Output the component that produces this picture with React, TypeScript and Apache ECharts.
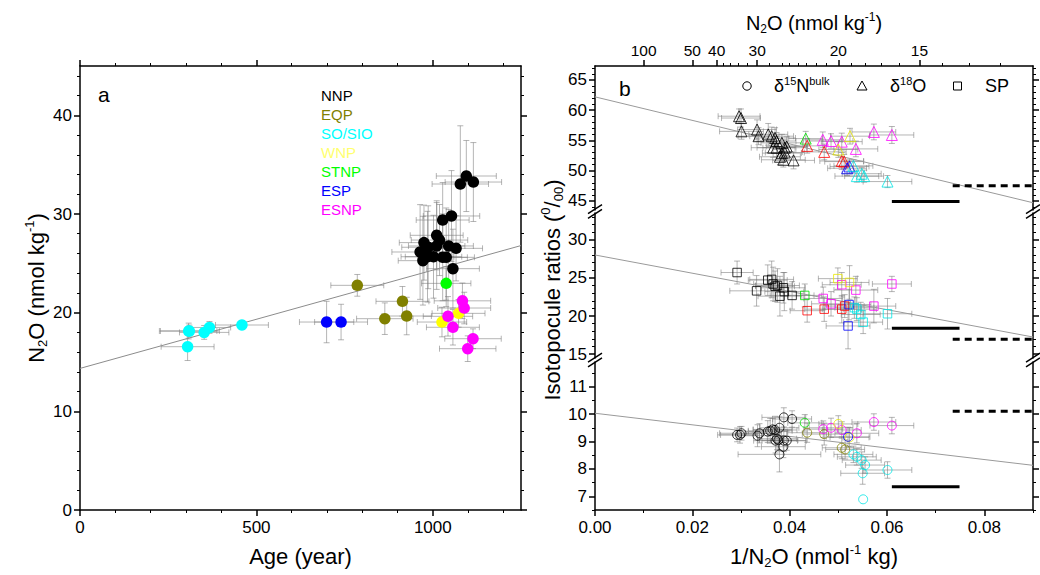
import React, { useEffect, useRef } from 'react';
import * as echarts from 'echarts';

const FONT = '"Liberation Sans", Arial, Helvetica, sans-serif';

// ---------- Panel a: [age (year), N2O (nmol kg-1), age error, N2O error]
const NNP = [
  [1095, 33.85, 85, 3.6], [1078, 33.04, 80, 5.9], [1115, 33.24, 80, 4.0], [1053, 29.8, 80, 4.6],
  [1028, 29.39, 75, 3.8], [1011, 27.84, 75, 3.5], [1019, 27.36, 80, 3.6], [975, 27.1, 70, 3.8],
  [987, 26.63, 75, 4.2], [1011, 26.76, 80, 4.4], [1045, 26.76, 70, 3.7], [1066, 26.52, 75, 3.3],
  [964, 26.15, 80, 4.8], [972, 25.27, 70, 4.5], [985, 25.67, 75, 4.6], [1002, 25.67, 80, 4.2],
  [1028, 25.61, 70, 4.4], [1038, 25.61, 80, 5.0], [1057, 24.46, 75, 4.0],
];
const EQP = [[786, 22.77, 75, 1.1], [864, 19.39, 80, 1.6], [914, 21.15, 75, 1.5], [926, 19.66, 70, 1.9]];
const SO_SIO = [[308, 18.14, 80, 0.8], [310, 18.14, 85, 0.6], [352, 18.0, 70, 0.7], [367, 18.5, 60, 0.6], [459, 18.75, 75, 0.3], [305, 16.55, 75, 1.4]];
const WNP = [[1073, 19.93, 75, 1.4], [1026, 19.05, 70, 1.5]];
const STNP = [[1038, 22.97, 70, 1.7]];
const ESP = [[699, 19.05, 77, 2.1], [740, 19.05, 75, 1.8]];
const ESNP = [[1084, 21.2, 80, 1.8], [1089, 20.47, 75, 1.6], [1043, 19.63, 70, 2.0], [1057, 18.52, 75, 1.8], [1114, 17.36, 80, 1.0], [1099, 16.35, 80, 1.3]];
const REGION_NAMES = ['NNP', 'EQP', 'SO/SIO', 'WNP', 'STNP', 'ESP', 'ESNP'];
const REGION_DATA = [NNP, EQP, SO_SIO, WNP, STNP, ESP, ESNP];
const REGION_COLORS = ['#000000', '#808000', '#00ffff', '#ffff00', '#00ff00', '#0000ff', '#ff00ff'];
const REGION_TEXT_COLORS = ['#000000', '#808000', '#00ffff', '#ffff70', '#00ff00', '#0000ff', '#ff00ff'];
const FIT_A = [[0, 14.35], [1250, 26.8]];

const A_X_MAJOR = [0, 500, 1000];
const A_X_MINOR = [100, 200, 300, 400, 600, 700, 800, 900, 1100, 1200];
const A_Y_MAJOR = [0, 10, 20, 30, 40];
const A_Y_MINOR = [2, 4, 6, 8, 12, 14, 16, 18, 22, 24, 26, 28, 32, 34, 36, 38, 42, 44];

// ---------- Panel b: [1/N2O, ratio (per mil), x error, y error]
const D18O_BLACK = [
  [0.0296, 59.0, 0.0043, 1.2], [0.03, 58.7, 0.004, 1.5], [0.0301, 56.5, 0.0045, 1.3], [0.0333, 56.8, 0.004, 1.6],
  [0.0336, 55.7, 0.0042, 1.4], [0.0356, 56.0, 0.004, 1.8], [0.0363, 55.7, 0.0045, 1.5], [0.037, 55.4, 0.0042, 1.7],
  [0.0373, 54.9, 0.004, 1.4], [0.0366, 53.8, 0.0045, 1.6], [0.0373, 53.8, 0.004, 1.5], [0.0384, 54.6, 0.0043, 1.4],
  [0.039, 53.8, 0.0045, 1.3], [0.0394, 54.0, 0.0042, 1.6], [0.0384, 52.9, 0.004, 1.5], [0.0387, 51.8, 0.0045, 1.2],
  [0.0408, 51.7, 0.0043, 1.4], [0.039, 53.0, 0.004, 1.5], [0.038, 52.3, 0.0042, 1.3],
];
const D18O_GREEN = [[0.0433, 55.3, 0.0035, 1.2]];
const D18O_RED = [[0.0436, 54.1, 0.004, 1.2], [0.0471, 53.1, 0.0045, 1.3], [0.0507, 51.6, 0.0045, 1.4], [0.0512, 51.5, 0.004, 1.2]];
const D18O_MAGENTA = [[0.0468, 55.1, 0.004, 1.3], [0.0485, 54.9, 0.0045, 1.2], [0.0507, 54.8, 0.0042, 1.4], [0.0536, 53.6, 0.0045, 1.3], [0.0573, 56.4, 0.0045, 1.3], [0.061, 55.9, 0.0045, 1.4]];
const D18O_YELLOW = [[0.0524, 55.7, 0.004, 1.3], [0.05, 53.5, 0.004, 1.3]];
const D18O_BLUE = [[0.0518, 50.4, 0.004, 1.2], [0.0523, 50.7, 0.004, 1.2]];
const D18O_CYAN = [[0.0531, 50.8, 0.004, 1.0], [0.0538, 49.1, 0.0045, 1.0], [0.0548, 49.5, 0.004, 1.0], [0.0553, 49.1, 0.004, 1.0], [0.0601, 48.2, 0.005, 1.0]];

const SP_BLACK = [
  [0.0292, 25.7, 0.0033, 1.5], [0.0355, 24.7, 0.004, 2.0], [0.0363, 24.8, 0.0045, 2.4], [0.0366, 24.2, 0.004, 2.2],
  [0.0387, 23.7, 0.0045, 2.0], [0.0389, 23.2, 0.004, 2.5], [0.0332, 23.3, 0.0055, 2.0], [0.038, 22.6, 0.0045, 2.6],
  [0.0405, 22.7, 0.0045, 1.8], [0.037, 23.9, 0.004, 2.0], [0.0375, 24.0, 0.0045, 2.2],
];
const SP_GREEN = [[0.0431, 22.7, 0.0035, 1.5]];
const SP_RED = [[0.0436, 20.7, 0.0035, 1.5], [0.0471, 20.9, 0.004, 1.6], [0.0507, 20.9, 0.004, 1.8], [0.0513, 21.3, 0.004, 1.5]];
const SP_BLUE = [[0.0522, 21.5, 0.0045, 2.0], [0.052, 18.7, 0.0045, 3.0]];
const SP_MAGENTA = [[0.0507, 24.1, 0.004, 1.6], [0.0536, 23.4, 0.0045, 1.8], [0.0469, 22.3, 0.004, 1.5], [0.0485, 21.6, 0.004, 1.6], [0.0573, 21.3, 0.0045, 2.2], [0.061, 24.2, 0.004, 1.0]];
const SP_YELLOW = [[0.0499, 24.9, 0.004, 1.4], [0.0523, 24.4, 0.004, 2.2]];
const SP_CYAN = [[0.0538, 20.9, 0.004, 1.5], [0.0546, 20.2, 0.004, 1.6], [0.0551, 19.2, 0.004, 1.5], [0.0601, 20.3, 0.005, 2.0], [0.0533, 21.1, 0.004, 1.4]];

const D15N_BLACK = [
  [0.0292, 9.24, 0.004, 0.25], [0.0298, 9.24, 0.004, 0.3], [0.0301, 9.3, 0.0045, 0.25], [0.0334, 9.21, 0.004, 0.4],
  [0.0338, 9.3, 0.0045, 0.35], [0.0355, 9.36, 0.004, 0.4], [0.036, 9.39, 0.0045, 0.45], [0.0365, 9.44, 0.004, 0.4],
  [0.037, 9.42, 0.0045, 0.5], [0.0379, 9.5, 0.004, 0.4], [0.0388, 9.88, 0.0045, 0.35], [0.0405, 9.82, 0.004, 0.3],
  [0.0371, 9.03, 0.0045, 0.45], [0.0377, 9.05, 0.004, 0.4], [0.0388, 9.03, 0.0045, 0.4], [0.0394, 9.03, 0.004, 0.35],
  [0.0387, 8.81, 0.0045, 0.4], [0.0379, 8.53, 0.0085, 0.64], [0.0374, 9.1, 0.004, 0.4],
];
const D15N_GREEN = [[0.0431, 9.68, 0.0035, 0.3]];
const D15N_OLIVE = [[0.0436, 9.32, 0.004, 0.35], [0.0471, 9.27, 0.0045, 0.4], [0.0507, 8.77, 0.004, 0.4], [0.0514, 8.71, 0.004, 0.35]];
const D15N_MAGENTA = [[0.0469, 9.45, 0.004, 0.3], [0.0485, 9.5, 0.0045, 0.35], [0.0507, 9.42, 0.004, 0.3], [0.0538, 9.3, 0.0045, 0.35], [0.0573, 9.71, 0.0045, 0.3], [0.061, 9.58, 0.0045, 0.3]];
const D15N_YELLOW = [[0.05, 9.64, 0.004, 0.3], [0.0523, 9.15, 0.004, 0.35]];
const D15N_BLUE = [[0.052, 9.17, 0.0045, 0.35]];
const D15N_CYAN = [[0.0531, 8.53, 0.004, 0.3], [0.0538, 8.44, 0.004, 0.3], [0.0548, 8.32, 0.004, 0.3], [0.0555, 8.14, 0.004, 0.3], [0.055, 7.84, 0.0045, 0.4], [0.0601, 7.96, 0.005, 0.3], [0.0551, 6.89, 0, 0]];

const FIT_D18O = [[0, 62.2], [0.09, 44.7]];
const FIT_SP = [[0, 28.0], [0.09, 17.25]];
const FIT_D15N = [[0, 10.03], [0.09, 8.13]];
const SOLID_RANGE = [0.061, 0.0749];
const DASH_RANGE = [0.0735, 0.09];
const SOLID_LEVELS = [44.9, 18.4, 7.35]; // d18O, SP, d15N
const DASH_LEVELS = [47.5, 16.95, 10.1];

const B_X_MAJOR = [0, 0.02, 0.04, 0.06, 0.08];
const B_X_MINOR = [0.01, 0.03, 0.05, 0.07, 0.09];
const N2O_TOP_MAJOR = [100, 50, 40, 30, 20, 15];
const N2O_TOP_MINOR = [38, 36, 34, 32, 28, 26, 25, 24, 23, 22, 21, 19, 18, 17, 16, 14, 13, 12];
const B_TOP_RANGE = [43.5, 67.3];
const B_MID_RANGE = [14.5, 33.5];
const B_BOT_RANGE = [6.5, 11.9];
const B_TOP_MAJOR = [45, 50, 55, 60, 65];
const B_MID_MAJOR = [15, 20, 25, 30];
const B_BOT_MAJOR = [7, 8, 9, 10, 11];
const B_TOP_MINOR = [44, 46, 47, 48, 49, 51, 52, 53, 54, 56, 57, 58, 59, 61, 62, 63, 64, 66, 67];
const B_MID_MINOR = [16, 17, 18, 19, 21, 22, 23, 24, 26, 27, 28, 29, 31, 32, 33];
const B_BOT_MINOR = [6.5, 7.5, 8.5, 9.5, 10.5, 11.5];

function rich(size: number, small: number) {
  return {
    n: { fontSize: size, fontFamily: FONT, color: '#000', lineHeight: Math.round(size * 1.2) },
    sub: { fontSize: small, fontFamily: FONT, color: '#000', lineHeight: Math.round(small * 0.85), verticalAlign: 'bottom' },
    sup: { fontSize: small, fontFamily: FONT, color: '#000', lineHeight: Math.round(small * 0.85), verticalAlign: 'top' },
  };
}
const RICH_TITLE = rich(22, 13);
const RICH_TOP = rich(20, 12);
const RICH_LEG = rich(18, 11);

function axisPair(o: any) {
  const common = { type: 'value', gridIndex: o.grid, position: o.pos, min: o.min, max: o.max, splitLine: { show: false } };
  const major = {
    ...common,
    axisLine: { show: true, onZero: false, lineStyle: { color: '#000', width: 1.5 } },
    axisTick: { show: true, inside: false, length: 6, customValues: o.majors, lineStyle: { color: '#000', width: 1.5 } },
    axisLabel: o.labels
      ? { show: true, customValues: o.labels, formatter: o.fmt, fontSize: o.fontSize || 17, fontFamily: FONT, color: '#000', margin: o.margin == null ? 8 : o.margin }
      : { show: false },
    name: o.name,
    nameLocation: 'middle',
    nameGap: o.nameGap,
    nameTextStyle: { rich: o.rich || RICH_TITLE, fontFamily: FONT, color: '#000' },
  };
  const minor = {
    ...common,
    axisLine: { show: false, onZero: false },
    axisTick: { show: true, inside: false, length: 3, customValues: o.minors, lineStyle: { color: '#000', width: 1 } },
    axisLabel: { show: false },
  };
  return [major, minor];
}

function errorSeries(data: number[][], xi: number, yi: number) {
  return {
    type: 'custom', xAxisIndex: xi, yAxisIndex: yi, clip: true, silent: true, z: 1,
    data, encode: { x: 0, y: 1 },
    renderItem: (_p: any, api: any) => {
      const x = api.value(0), y = api.value(1), ex = api.value(2), ey = api.value(3);
      const c = api.coord([x, y]);
      const l = api.coord([x - ex, y])[0];
      const r = api.coord([x + ex, y])[0];
      const t = api.coord([x, y + ey])[1];
      const b = api.coord([x, y - ey])[1];
      const cap = 3;
      const st = { stroke: 'rgba(120,120,120,0.55)', lineWidth: 1 };
      const children: any[] = [];
      if (ex > 0) {
        children.push(
          { type: 'line', shape: { x1: l, y1: c[1], x2: r, y2: c[1] }, style: st },
          { type: 'line', shape: { x1: l, y1: c[1] - cap, x2: l, y2: c[1] + cap }, style: st },
          { type: 'line', shape: { x1: r, y1: c[1] - cap, x2: r, y2: c[1] + cap }, style: st },
        );
      }
      if (ey > 0) {
        children.push(
          { type: 'line', shape: { x1: c[0], y1: t, x2: c[0], y2: b }, style: st },
          { type: 'line', shape: { x1: c[0] - cap, y1: t, x2: c[0] + cap, y2: t }, style: st },
          { type: 'line', shape: { x1: c[0] - cap, y1: b, x2: c[0] + cap, y2: b }, style: st },
        );
      }
      return { type: 'group', children };
    },
  };
}

function lineSeries(data: number[][], xi: number, yi: number, color: string, width: number, type: any = 'solid') {
  return {
    type: 'line', xAxisIndex: xi, yAxisIndex: yi, data, showSymbol: false, symbol: 'none', silent: true, z: 2,
    lineStyle: { color, width, type }, clip: true,
  };
}

function App() {
  const ref = useRef<HTMLDivElement>(null);
  useEffect(() => {
    if (!ref.current) return;
    const chart = echarts.init(ref.current, undefined, { renderer: 'svg' });

    const xAxis = [
      ...axisPair({ grid: 0, pos: 'bottom', min: 0, max: 1250, majors: A_X_MAJOR, minors: A_X_MINOR, labels: A_X_MAJOR, fmt: (v: number) => String(v), name: '{n|Age (year)}', nameGap: 33, margin: 9 }),
      ...axisPair({ grid: 0, pos: 'top', min: 0, max: 1250, majors: A_X_MAJOR, minors: A_X_MINOR }),
      ...axisPair({ grid: 1, pos: 'top', min: 0, max: 0.09, majors: N2O_TOP_MAJOR.map((v) => 1 / v), minors: N2O_TOP_MINOR.map((v) => 1 / v), labels: N2O_TOP_MAJOR.map((v) => 1 / v), fmt: (v: number) => String(Math.round(1 / v)), fontSize: 15.5, margin: 8, name: '{n|N}{sub|2}{n|O (nmol kg}{sup|-1}{n|)}', nameGap: 31, rich: RICH_TOP }),
      { type: 'value', gridIndex: 2, min: 0, max: 0.09, show: false },
      ...axisPair({ grid: 3, pos: 'bottom', min: 0, max: 0.09, majors: B_X_MAJOR, minors: B_X_MINOR, labels: B_X_MAJOR, fmt: (v: number) => v.toFixed(2), name: '{n|1/N}{sub|2}{n|O (nmol}{sup|-1}{n| kg)}', nameGap: 33, margin: 9 }),
    ];
    const yAxis = [
      ...axisPair({ grid: 0, pos: 'left', min: 0, max: 45, majors: A_Y_MAJOR, minors: A_Y_MINOR, labels: A_Y_MAJOR, fmt: (v: number) => String(v), name: '{n|N}{sub|2}{n|O (nmol kg}{sup|-1}{n|)}', nameGap: 31 }),
      ...axisPair({ grid: 0, pos: 'right', min: 0, max: 45, majors: A_Y_MAJOR, minors: A_Y_MINOR }),
      ...axisPair({ grid: 1, pos: 'left', min: B_TOP_RANGE[0], max: B_TOP_RANGE[1], majors: B_TOP_MAJOR, minors: B_TOP_MINOR, labels: B_TOP_MAJOR, fmt: (v: number) => String(v) }),
      ...axisPair({ grid: 1, pos: 'right', min: B_TOP_RANGE[0], max: B_TOP_RANGE[1], majors: B_TOP_MAJOR, minors: B_TOP_MINOR }),
      ...axisPair({ grid: 2, pos: 'left', min: B_MID_RANGE[0], max: B_MID_RANGE[1], majors: B_MID_MAJOR, minors: B_MID_MINOR, labels: B_MID_MAJOR, fmt: (v: number) => String(v) }),
      ...axisPair({ grid: 2, pos: 'right', min: B_MID_RANGE[0], max: B_MID_RANGE[1], majors: B_MID_MAJOR, minors: B_MID_MINOR }),
      ...axisPair({ grid: 3, pos: 'left', min: B_BOT_RANGE[0], max: B_BOT_RANGE[1], majors: B_BOT_MAJOR, minors: B_BOT_MINOR, labels: B_BOT_MAJOR, fmt: (v: number) => String(v) }),
      ...axisPair({ grid: 3, pos: 'right', min: B_BOT_RANGE[0], max: B_BOT_RANGE[1], majors: B_BOT_MAJOR, minors: B_BOT_MINOR }),
    ];

    const series: any[] = [];
    // Panel a
    series.push(errorSeries(REGION_DATA.flat(), 0, 0));
    series.push(lineSeries(FIT_A, 0, 0, '#8c8c8c', 1));
    REGION_DATA.forEach((d, i) => {
      series.push({
        type: 'scatter', name: REGION_NAMES[i], xAxisIndex: 0, yAxisIndex: 0, data: d.map((p) => [p[0], p[1]]),
        symbol: 'circle', symbolSize: 11.5, itemStyle: { color: REGION_COLORS[i], opacity: 1 }, z: 3,
      });
    });

    // Panel b
    const bGroups = [
      { xi: 4, yi: 4, symbol: 'triangle', size: 11, sets: [[D18O_BLACK, '#000000'], [D18O_GREEN, '#00e000'], [D18O_RED, '#ff0000'], [D18O_MAGENTA, '#ff00ff'], [D18O_YELLOW, '#e8e800'], [D18O_BLUE, '#0000ff'], [D18O_CYAN, '#00e5e5']], fit: FIT_D18O, lvl: 0 },
      { xi: 6, yi: 8, symbol: 'rect', size: 8.5, sets: [[SP_BLACK, '#000000'], [SP_GREEN, '#00e000'], [SP_RED, '#ff0000'], [SP_MAGENTA, '#ff00ff'], [SP_YELLOW, '#e8e800'], [SP_BLUE, '#0000ff'], [SP_CYAN, '#00e5e5']], fit: FIT_SP, lvl: 1 },
      { xi: 7, yi: 12, symbol: 'circle', size: 9, sets: [[D15N_BLACK, '#000000'], [D15N_GREEN, '#00e000'], [D15N_OLIVE, '#808000'], [D15N_MAGENTA, '#ff00ff'], [D15N_YELLOW, '#e8e800'], [D15N_BLUE, '#0000ff'], [D15N_CYAN, '#00e5e5']], fit: FIT_D15N, lvl: 2 },
    ];
    bGroups.forEach((g) => {
      series.push(errorSeries(g.sets.map((s: any) => s[0]).flat(), g.xi, g.yi));
      series.push(lineSeries(g.fit, g.xi, g.yi, '#9a9a9a', 1));
      series.push(lineSeries([[SOLID_RANGE[0], SOLID_LEVELS[g.lvl]], [SOLID_RANGE[1], SOLID_LEVELS[g.lvl]]], g.xi, g.yi, '#000', 3));
      series.push(lineSeries([[DASH_RANGE[0], DASH_LEVELS[g.lvl]], [DASH_RANGE[1], DASH_LEVELS[g.lvl]]], g.xi, g.yi, '#000', 3, [7, 5]));
      g.sets.forEach((s: any) => {
        series.push({
          type: 'scatter', xAxisIndex: g.xi, yAxisIndex: g.yi, data: s[0].map((p: number[]) => [p[0], p[1]]),
          symbol: g.symbol, symbolSize: g.size, z: 3, silent: true,
          itemStyle: { color: 'rgba(255,255,255,0)', borderColor: s[1], borderWidth: 1 },
        });
      });
    });

    const breaks: any[] = [];
    [211.5, 360].forEach((y0) => {
      [595, 1033].forEach((x0) => {
        [-2.4, 2.4].forEach((o) => {
          breaks.push({ type: 'line', shape: { x1: x0 - 7, y1: y0 + o + 4.5, x2: x0 + 7, y2: y0 + o - 4.5 }, style: { stroke: '#000', lineWidth: 1.5 }, z: 10 });
        });
      });
    });

    const option: any = {
      animation: false,
      backgroundColor: '#fff',
      grid: [
        { left: 80, top: 66, width: 441, height: 444 },
        { left: 595, top: 66, width: 438, height: 144 },
        { left: 595, top: 213, width: 438, height: 145 },
        { left: 595, top: 362, width: 438, height: 148 },
      ],
      xAxis, yAxis, series,
      legend: {
        orient: 'vertical', left: 316, top: 88, padding: 0, itemGap: 4, itemWidth: 0, itemHeight: 15, selectedMode: false,
        data: REGION_NAMES.map((n, i) => ({ name: n, icon: 'none', textStyle: { color: REGION_TEXT_COLORS[i], fontSize: 15, fontFamily: FONT } })),
        textStyle: { fontSize: 15, fontFamily: FONT },
      },
      graphic: [
        { type: 'text', x: 98, y: 84, style: { text: 'a', fontSize: 21, fontFamily: FONT, fill: '#000' } },
        { type: 'text', x: 619, y: 78, style: { text: 'b', fontSize: 21, fontFamily: FONT, fill: '#000' } },
        { type: 'circle', shape: { cx: 747, cy: 86, r: 4.2 }, style: { fill: 'none', stroke: '#000', lineWidth: 1 } },
        { type: 'text', x: 774, y: 86, style: { text: '{n|δ}{sup|15}{n|N}{sup|bulk}', rich: RICH_LEG, verticalAlign: 'middle' } },
        { type: 'polygon', shape: { points: [[857, 90], [867, 90], [862, 81]] }, style: { fill: 'none', stroke: '#000', lineWidth: 1 } },
        { type: 'text', x: 890, y: 86, style: { text: '{n|δ}{sup|18}{n|O}', rich: RICH_LEG, verticalAlign: 'middle' } },
        { type: 'rect', shape: { x: 953.5, y: 82, width: 8, height: 8 }, style: { fill: 'none', stroke: '#000', lineWidth: 1 } },
        { type: 'text', x: 985, y: 86, style: { text: '{n|SP}', rich: RICH_LEG, verticalAlign: 'middle' } },
        { type: 'text', x: 552, y: 290, rotation: Math.PI / 2, style: { text: '{n|Isotopocule ratios (}{sup|0}{n|/}{sub|00}{n|)}', rich: RICH_TITLE, align: 'center', verticalAlign: 'middle' } },
        ...breaks,
      ],
    };
    chart.setOption(option);
    return () => chart.dispose();
  }, []);
  return <div ref={ref} style={{ position: 'absolute', left: 0, top: 0, width: 1040, height: 575, background: '#fff' }} />;
}

export default App;
